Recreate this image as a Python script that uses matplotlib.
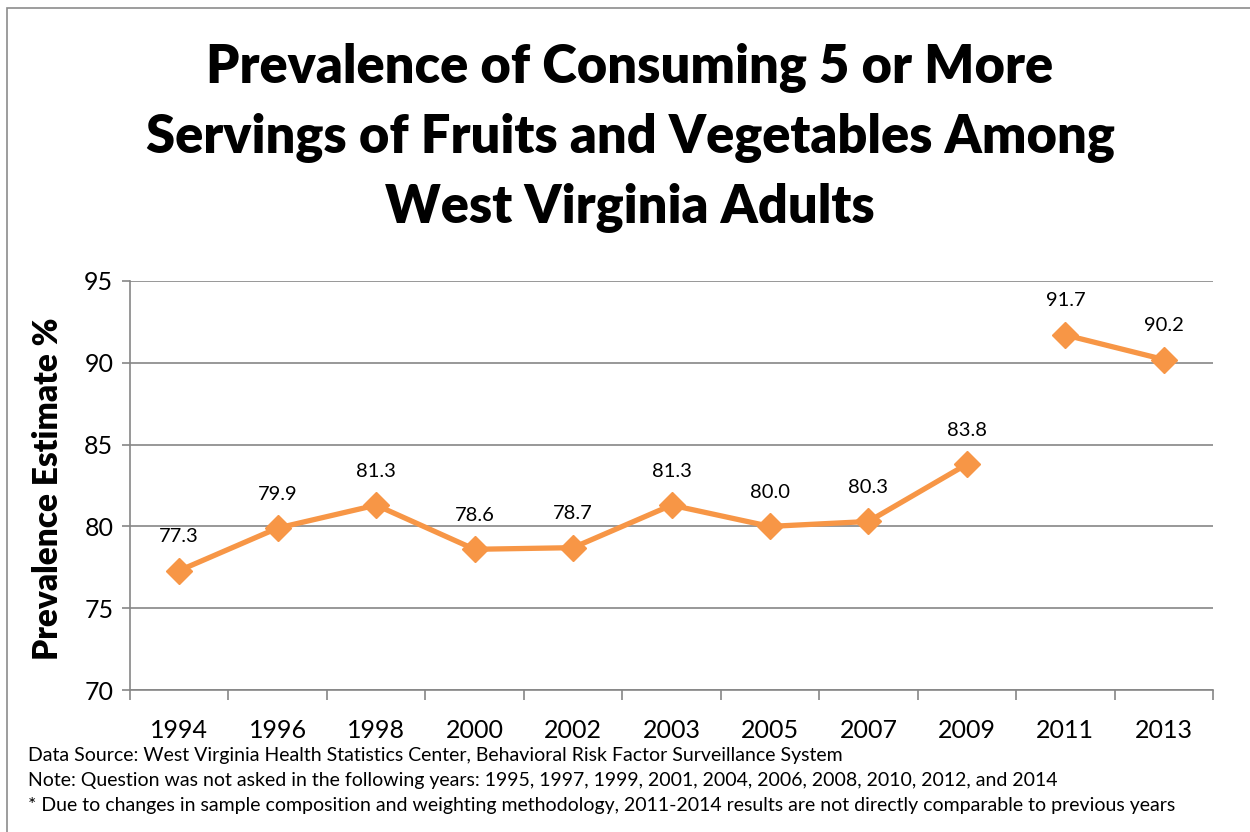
import numpy as np
import matplotlib.pyplot as plt
from matplotlib.patches import Rectangle

years = ["1994", "1996", "1998", "2000", "2002", "2003", "2005", "2007", "2009", "2011", "2013"]
prevalence = [77.3, 79.9, 81.3, 78.6, 78.7, 81.3, 80.0, 80.3, 83.8, 91.7, 90.2]
break_after = 9  # 2011 onward not comparable, so the line is broken

title = "Prevalence of Consuming 5 or More\nServings of Fruits and Vegetables Among\nWest Virginia Adults"
notes = [
    "Data Source: West Virginia Health Statistics Center, Behavioral Risk Factor Surveillance System",
    "Note: Question was not asked in the following years: 1995, 1997, 1999, 2001, 2004, 2006, 2008, 2010, 2012, and 2014",
    "* Due to changes in sample composition and weighting methodology, 2011-2014 results are not directly comparable to previous years",
]

orange = "#F79646"
grid = "#868686"
plt.rcParams['font.family'] = ['Lato', 'DejaVu Sans']

fig = plt.figure(figsize=(12.5, 8.32), dpi=100)
fig.patches.append(Rectangle((7 / 1250, -0.1), 1.2, 1.1 - 8 / 832, transform=fig.transFigure,
                             fill=False, edgecolor="#8c8c8c", linewidth=1.2))

ax = fig.add_axes([130 / 1250, 1 - 690 / 832, (1213 - 130) / 1250, (690 - 281) / 832])
x = np.arange(len(years))
y = np.array(prevalence)
ax.plot(x[:break_after], y[:break_after], color=orange, lw=3.8, marker="D", ms=13, mec=orange)
ax.plot(x[break_after:], y[break_after:], color=orange, lw=3.8, marker="D", ms=13, mec=orange)
for xi, yi in zip(x, y):
    ax.annotate(f"{yi:.1f}", (xi, yi), xytext=(0, 24.5), textcoords="offset points",
                ha="center", va="center", fontsize=14.5)

ax.set_xlim(-0.5, len(years) - 0.5)
ax.set_ylim(70, 95)
ax.set_yticks(range(70, 96, 5))
ax.set_xticks(x)
ax.set_xticklabels(years)
ax.set_xticks(np.arange(-0.5, len(years)), minor=True)
ax.tick_params(axis="x", which="major", length=0, pad=21, labelsize=18)
ax.tick_params(axis="x", which="minor", length=7, color=grid, width=1.2)
ax.tick_params(axis="y", length=6, color=grid, width=1.2, labelsize=18, pad=6)
ax.grid(axis="y", color=grid, lw=1.2)
ax.set_axisbelow(True)
for s in ["top", "right"]:
    ax.spines[s].set_visible(False)
for s in ["left", "bottom"]:
    ax.spines[s].set_color(grid)
    ax.spines[s].set_linewidth(1.2)
ax.set_ylabel("Prevalence Estimate %", fontsize=24, fontweight="heavy")
ax.yaxis.set_label_coords((64 - 130) / 1083, (690 - 489) / 409)

fig.text(630 / 1250, 1 - 138 / 832, title, ha="center", va="center", fontsize=37.7,
         fontweight="heavy", linespacing=1.5)
for i, n in enumerate(notes):
    fig.text(28 / 1250, 1 - (755 + 25.5 * i) / 832, n, ha="left", va="center", fontsize=14)

fig.savefig("out.png", dpi=100)
